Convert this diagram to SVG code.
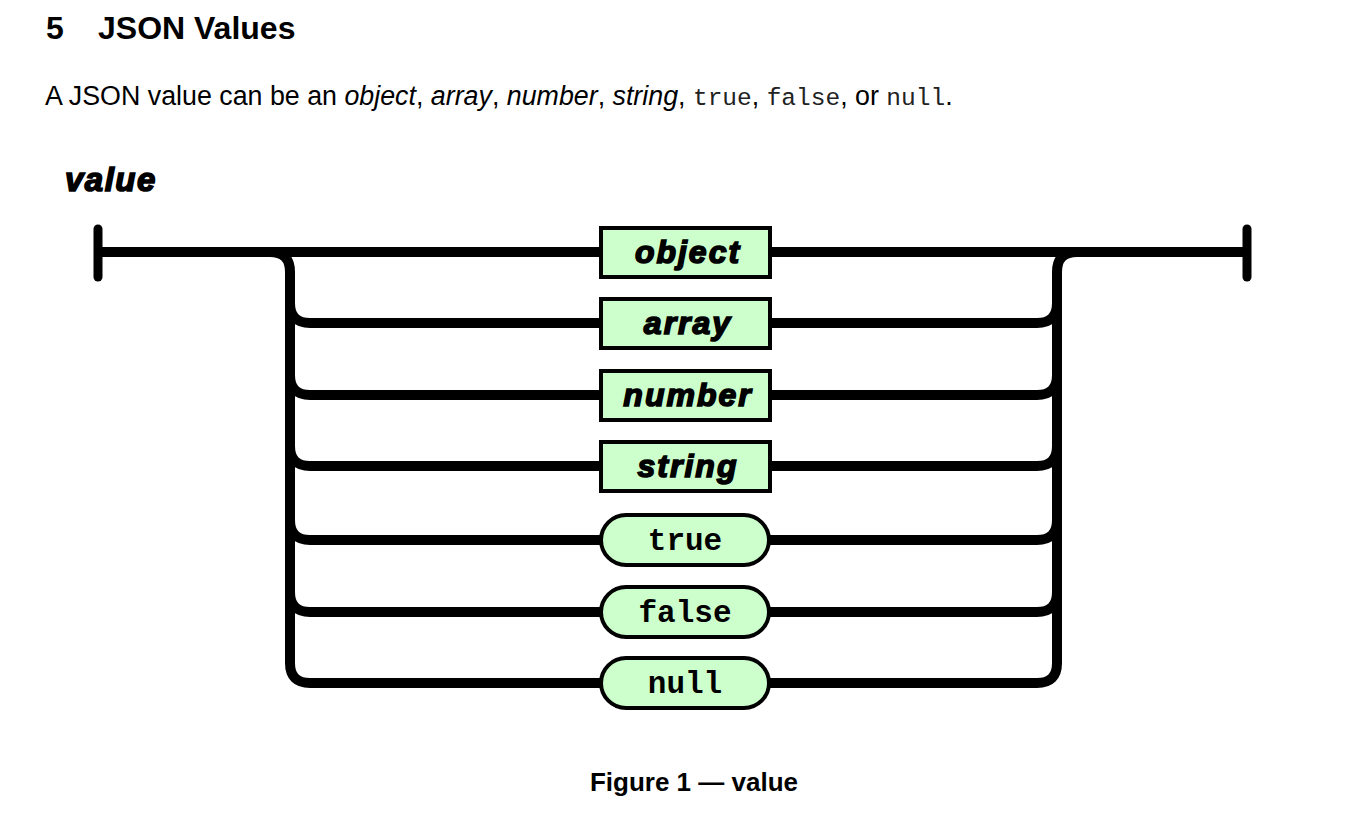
<svg xmlns="http://www.w3.org/2000/svg" width="1350" height="830" viewBox="0 0 1350 830">
<style>
.bg{fill:#ffffff}
.h{font-family:"Liberation Sans",Arial,sans-serif;font-weight:bold;font-size:32px;fill:#000}
.p{font-family:"Liberation Sans",Arial,sans-serif;font-size:26.8px;fill:#000}
.it{font-style:italic}
.mono{font-family:"Liberation Mono","Courier New",monospace;font-size:24.5px;fill:#222}
.cap{font-family:"Liberation Sans",Arial,sans-serif;font-weight:bold;font-size:26px;fill:#000}
.wire{fill:none;stroke:#000;stroke-width:10;stroke-linecap:butt}
.bar{stroke:#000;stroke-width:9;stroke-linecap:round}
.box{fill:#ccffcc;stroke:#000;stroke-width:4}
.nt{font-family:"Liberation Sans",Arial,sans-serif;font-weight:bold;font-style:italic;font-size:32px;letter-spacing:2px;fill:#000;stroke:#000;stroke-width:1.6;text-anchor:middle}
.tt{font-family:"Liberation Mono","Courier New",monospace;font-weight:bold;font-size:31px;fill:#000;text-anchor:middle}
.title{font-family:"Liberation Sans",Arial,sans-serif;font-weight:bold;font-style:italic;font-size:33px;letter-spacing:1.5px;fill:#000;stroke:#000;stroke-width:1.6}
</style>
<rect class="bg" x="0" y="0" width="1350" height="830"/>
<text class="h" x="46" y="39">5</text>
<text class="h" x="98" y="39">JSON Values</text>
<text class="p" x="45" y="105">A JSON value can be an <tspan class="it">object</tspan>, <tspan class="it">array</tspan>, <tspan class="it">number</tspan>, <tspan class="it">string</tspan>, <tspan class="mono">true</tspan>, <tspan class="mono">false</tspan>, or <tspan class="mono">null</tspan>.</text>
<text class="title" x="65" y="191">value</text>
<g id="connectors">
<line class="bar" x1="98" y1="229" x2="98" y2="277"/>
<line class="bar" x1="1247" y1="229" x2="1247" y2="277"/>
<path class="wire" d="M98 252 H1247"/>
<path class="wire" d="M270 252 Q290 252 290 272 V663 Q290 683 310 683 H600"/>
<path class="wire" d="M290 303 Q290 323 310 323 H600"/>
<path class="wire" d="M290 375 Q290 395 310 395 H600"/>
<path class="wire" d="M290 446 Q290 466 310 466 H600"/>
<path class="wire" d="M290 520 Q290 540 310 540 H600"/>
<path class="wire" d="M290 592 Q290 612 310 612 H600"/>
<path class="wire" d="M1077 252 Q1057 252 1057 272 V663 Q1057 683 1037 683 H770"/>
<path class="wire" d="M1057 303 Q1057 323 1037 323 H770"/>
<path class="wire" d="M1057 375 Q1057 395 1037 395 H770"/>
<path class="wire" d="M1057 446 Q1057 466 1037 466 H770"/>
<path class="wire" d="M1057 520 Q1057 540 1037 540 H770"/>
<path class="wire" d="M1057 592 Q1057 612 1037 612 H770"/>
</g>
<g id="node-object"><rect class="box" x="601" y="228" width="169" height="49"/><text class="nt" x="688" y="263">object</text></g>
<g id="node-array"><rect class="box" x="601" y="299" width="169" height="49"/><text class="nt" x="688" y="334">array</text></g>
<g id="node-number"><rect class="box" x="601" y="371" width="169" height="49"/><text class="nt" x="688" y="406">number</text></g>
<g id="node-string"><rect class="box" x="601" y="442" width="169" height="49"/><text class="nt" x="688" y="477">string</text></g>
<g id="node-true"><rect class="box" x="601" y="515" width="168" height="50" rx="25"/><text class="tt" x="685" y="550">true</text></g>
<g id="node-false"><rect class="box" x="601" y="587" width="168" height="50" rx="25"/><text class="tt" x="685" y="622">false</text></g>
<g id="node-null"><rect class="box" x="601" y="658" width="168" height="50" rx="25"/><text class="tt" x="685" y="693">null</text></g>
<text class="cap" x="694" y="791" text-anchor="middle">Figure 1 — value</text>
</svg>
